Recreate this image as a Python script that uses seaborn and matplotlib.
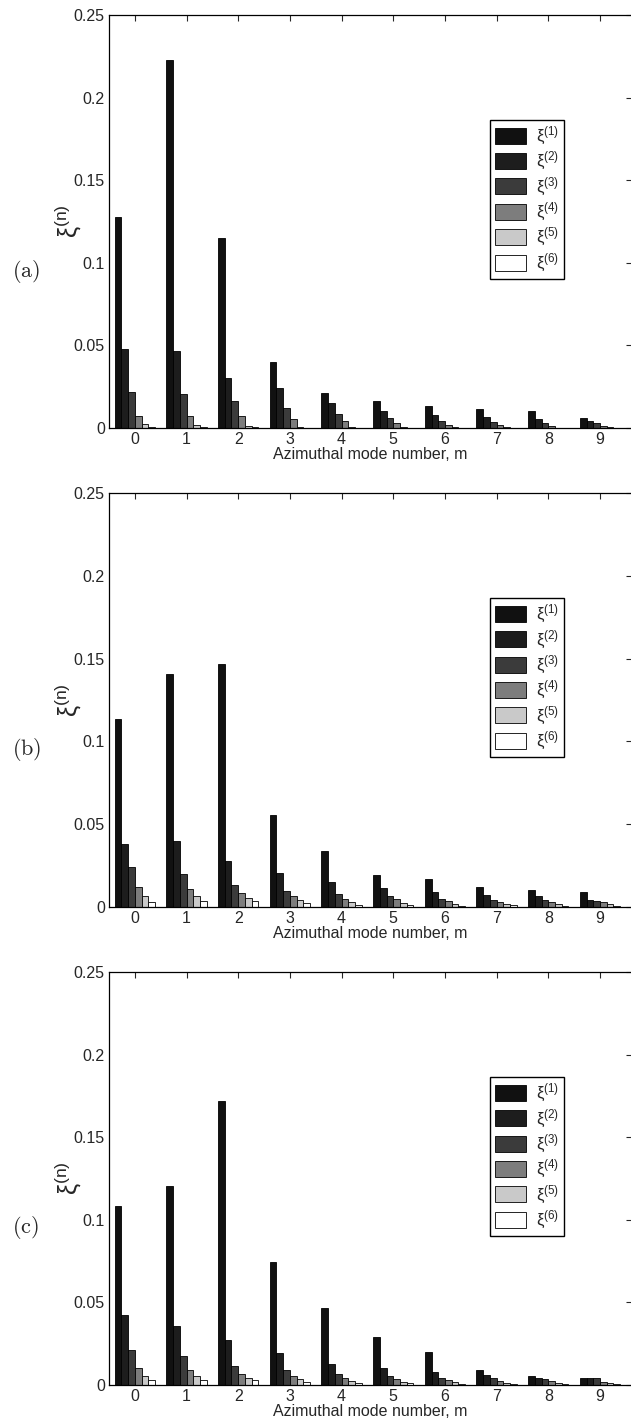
import numpy as np
import pandas as pd
import seaborn as sns
import matplotlib
matplotlib.use("Agg")
import matplotlib.pyplot as plt

# data: xi^(n) per azimuthal mode m, one list per panel and series
modes = [0, 1, 2, 3, 4, 5, 6, 7, 8, 9]
series = ["1", "2", "3", "4", "5", "6"]
panel_names = ["(a)", "(b)", "(c)"]

xi_a = [
    [0.128, 0.223, 0.115, 0.040, 0.021, 0.0162, 0.0135, 0.0115, 0.0105, 0.0061],
    [0.0475, 0.0466, 0.0301, 0.0242, 0.0153, 0.0105, 0.0079, 0.0065, 0.0057, 0.0044],
    [0.0218, 0.0208, 0.0166, 0.0119, 0.0085, 0.0063, 0.0044, 0.0038, 0.0028, 0.0030],
    [0.0071, 0.0071, 0.0071, 0.0057, 0.0040, 0.0028, 0.0018, 0.0016, 0.0010, 0.0012],
    [0.0026, 0.0016, 0.0010, 0.0005, 0.0004, 0.0004, 0.0003, 0.0003, 0.0002, 0.0003],
    [0.0008, 0.0006, 0.0003, 0.0002, 0.0002, 0.0002, 0.0001, 0.0001, 0.0001, 0.0001],
]
xi_b = [
    [0.1135, 0.1405, 0.147, 0.0553, 0.0336, 0.019, 0.0164, 0.0119, 0.0099, 0.0087],
    [0.0376, 0.0396, 0.0273, 0.0202, 0.0147, 0.0111, 0.0087, 0.0067, 0.0061, 0.0040],
    [0.0236, 0.0194, 0.0129, 0.0093, 0.0075, 0.0065, 0.0048, 0.0042, 0.0038, 0.0034],
    [0.0121, 0.0107, 0.0079, 0.0065, 0.0048, 0.0044, 0.0034, 0.0028, 0.0026, 0.0026],
    [0.0063, 0.0063, 0.0053, 0.0042, 0.0030, 0.0024, 0.0018, 0.0016, 0.0016, 0.0014],
    [0.0028, 0.0036, 0.0032, 0.0024, 0.0012, 0.0010, 0.0006, 0.0008, 0.0006, 0.0006],
]
xi_c = [
    [0.1084, 0.1206, 0.1717, 0.0746, 0.0464, 0.0289, 0.0196, 0.0087, 0.0049, 0.0040],
    [0.0423, 0.0356, 0.0267, 0.0192, 0.0127, 0.0103, 0.0073, 0.0057, 0.0042, 0.0038],
    [0.0208, 0.0170, 0.0113, 0.0087, 0.0061, 0.0049, 0.0042, 0.0038, 0.0034, 0.0038],
    [0.0099, 0.0087, 0.0063, 0.0053, 0.0038, 0.0032, 0.0028, 0.0022, 0.0020, 0.0018],
    [0.0053, 0.0051, 0.0042, 0.0032, 0.0024, 0.0018, 0.0014, 0.0012, 0.0010, 0.0010],
    [0.0026, 0.0030, 0.0026, 0.0016, 0.0010, 0.0008, 0.0004, 0.0006, 0.0004, 0.0006],
]
panels = [xi_a, xi_b, xi_c]

colors = ["#111111", "#1d1d1d", "#3b3b3b", "#7d7d7d", "#c9c9c9", "#ffffff"]
yticks = [0, 0.05, 0.1, 0.15, 0.2, 0.25]
ytick_labels = ["0", "0.05", "0.1", "0.15", "0.2", "0.25"]

sns.set_style("white")
plt.rcParams["font.family"] = ["Liberation Sans", "DejaVu Sans"]
plt.rcParams["mathtext.fontset"] = "cm"
plt.rcParams["mathtext.default"] = "regular"

fig = plt.figure(figsize=(6.31, 14.26), dpi=100)
# axes boxes in figure fractions (left, bottom, width, height)
boxes = [(0.1727, 0.6999, 0.8290, 0.2896),
         (0.1727, 0.3643, 0.8290, 0.2898),
         (0.1727, 0.0291, 0.8290, 0.2890)]

for vals, box, name in zip(panels, boxes, panel_names):
    ax = fig.add_axes(box)
    df = pd.DataFrame({
        "m": np.tile(modes, len(series)),
        "n": np.repeat(series, len(modes)),
        "xi": np.concatenate(vals),
    })
    sns.barplot(data=df, x="m", y="xi", hue="n", palette=colors, width=0.78,
                edgecolor="black", linewidth=0.6, errorbar=None, ax=ax)
    ax.set_xlim(-0.5, 9.62)
    ax.set_ylim(0, 0.25)
    ax.set_yticks(yticks)
    ax.set_yticklabels(ytick_labels)
    ax.tick_params(direction="in", length=4, width=0.8, labelsize=11.5,
                   top=True, right=True, pad=3)
    for s in ["left", "bottom", "top"]:
        ax.spines[s].set_color("black")
        ax.spines[s].set_linewidth(0.9)
    ax.spines["right"].set_visible(False)
    ax.set_xlabel("Azimuthal mode number, m", fontsize=11.5, labelpad=0)
    ax.set_ylabel(r"$\xi^{(n)}$", fontsize=18)
    ax.yaxis.set_label_coords(-0.05, 0.5)
    ax.text(-0.186, 0.38, r"$\mathrm{%s}$" % name, transform=ax.transAxes,
            fontsize=16, ha="left", va="center")

    handles, _ = ax.get_legend_handles_labels()
    ax.legend(handles, [r"$\xi^{(%s)}$" % s for s in series],
              loc="upper left", bbox_to_anchor=(0.7285, 0.746), fontsize=12,
              frameon=True, fancybox=False, edgecolor="black", framealpha=1,
              handlelength=1.85, handleheight=1.1, labelspacing=0.2,
              handletextpad=0.6, borderpad=0.3, borderaxespad=0)
    ax.get_legend().get_frame().set_linewidth(1.0)

fig.savefig("out.png", dpi=100)
